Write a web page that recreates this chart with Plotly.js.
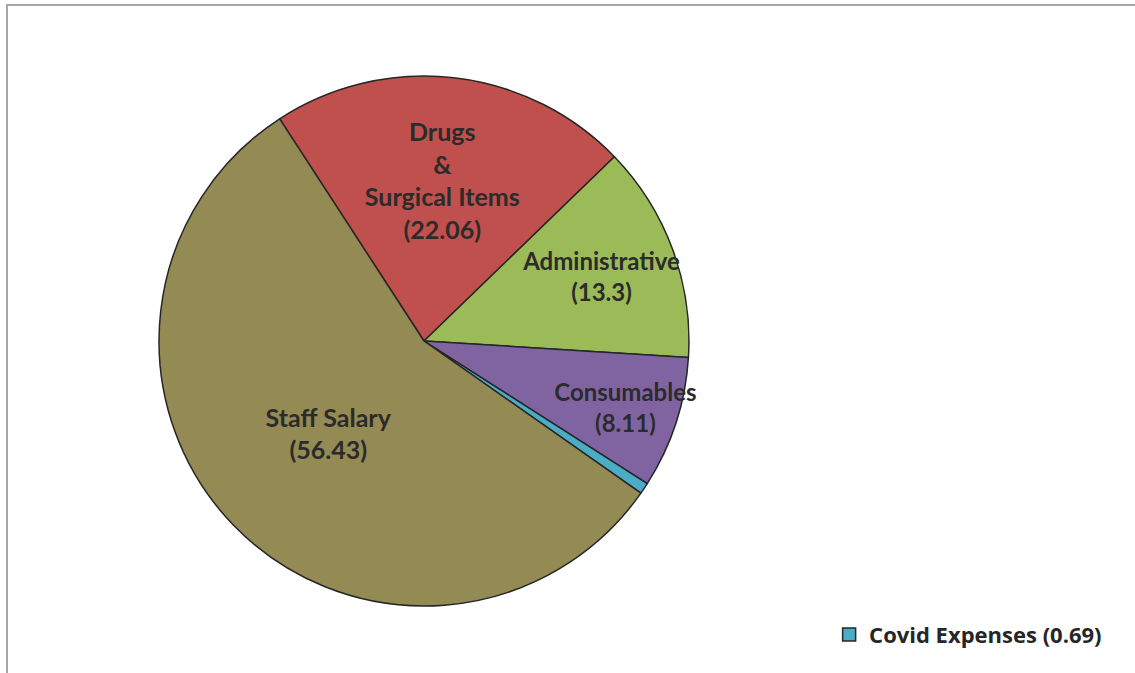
<!DOCTYPE html>
<html>
<head>
<meta charset="utf-8">
<script src="https://cdn.plot.ly/plotly-3.0.1.min.js"></script>
<style>html,body{margin:0;padding:0;background:#fff;}#chart{width:1135px;height:673px;}</style>
</head>
<body>
<div id="chart"></div>
<script>
var categories = ["Drugs & Surgical Items", "Administrative", "Consumables", "Covid Expenses", "Staff Salary"];
var values = [22.06, 13.3, 8.11, 0.69, 56.43];
var sliceLabels = ["Drugs<br>&<br>Surgical Items<br>(22.06)", "Administrative<br>(13.3)", "Consumables<br>(8.11)", "", "Staff Salary<br>(56.43)"];
var colors = ["#C0504D", "#9BBB59", "#8064A2", "#4BACC6", "#948A54"];
var legendName = "Covid Expenses (0.69)";

var pie = {
  type: "pie",
  labels: categories,
  values: values,
  text: sliceLabels,
  textinfo: "text",
  textposition: "inside",
  insidetextorientation: "horizontal",
  sort: false,
  direction: "clockwise",
  rotation: -33,
  marker: {colors: colors, line: {color: "#262626", width: 1.5}},
  textfont: {family: "Lato, 'Open Sans', sans-serif", size: [25, 24, 24, 24, 25], color: "#2b2b2b", weight: "bold"},
  hoverinfo: "label+value",
  showlegend: false,
  domain: {x: [0.1401, 0.6070], y: [0.0996, 0.887]}
};

var legendTrace = {
  type: "scatter",
  mode: "markers",
  x: [null], y: [null],
  name: legendName,
  marker: {symbol: "square", size: 13, color: colors[3], line: {color: "#262626", width: 1.5}},
  showlegend: true,
  hoverinfo: "skip"
};

var layout = {
  width: 1135, height: 673,
  margin: {l: 0, r: 0, t: 0, b: 0},
  paper_bgcolor: "#ffffff",
  plot_bgcolor: "rgba(0,0,0,0)",
  xaxis: {visible: false},
  yaxis: {visible: false},
  uniformtext: {mode: "show", minsize: 24},
  showlegend: true,
  legend: {x: 0.7305, y: 0.088, xanchor: "left", yanchor: "top", bgcolor: "rgba(0,0,0,0)",
    font: {family: "'Open Sans', sans-serif", size: 22, color: "#262626", weight: "bold"}, itemwidth: 30},
  shapes: [
    {type: "line", xref: "paper", yref: "paper", x0: 0.0053, x1: 1, y0: 0.9926, y1: 0.9926, line: {color: "#a6a6a6", width: 2}},
    {type: "line", xref: "paper", yref: "paper", x0: 0.0062, x1: 0.0062, y0: 0, y1: 0.9926, line: {color: "#a6a6a6", width: 2}}
  ]
};

Plotly.newPlot("chart", [pie, legendTrace], layout, {displayModeBar: false, staticPlot: true});
</script>
</body>
</html>
